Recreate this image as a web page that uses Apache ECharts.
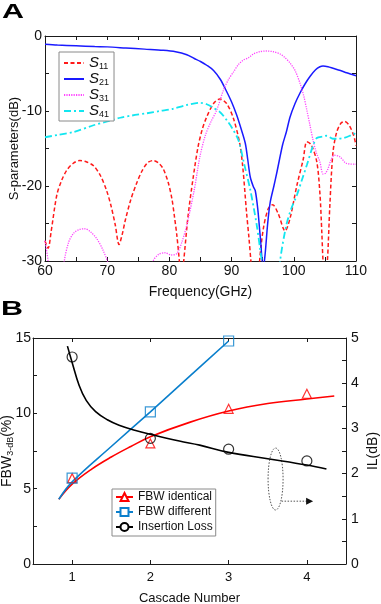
<!DOCTYPE html>
<html>
<head>
<meta charset="utf-8">
<script src="https://cdn.jsdelivr.net/npm/echarts@6/dist/echarts.min.js"></script>
<style>
html, body { margin: 0; padding: 0; background: #fff; }
#main { width: 381px; height: 604px; }
</style>
</head>
<body>
<div id="main"></div>
<script>
// ---- panel A : S-parameters, points are [GHz, dB]
var s11 = [[60,-27.3],[60.5,-28.3],[61,-26],[61.9,-21.2],[62.7,-19.2],[63.5,-17.9],[64.5,-17.0],[65.6,-16.6],[66.7,-16.8],[67.8,-17.3],[68.9,-18.6],[69.9,-20.6],[70.6,-22.6],[71.3,-25.2],[71.9,-27.8],[72.4,-26.5],[72.9,-24.6],[73.8,-21.8],[74.7,-19.7],[75.6,-18.0],[76.5,-16.9],[77.4,-16.6],[78.2,-16.9],[79,-17.7],[79.8,-19.5],[80.4,-21.7],[80.8,-24],[81.2,-26.6],[81.6,-30],[81.9,-33],[82.3,-30],[83,-24],[83.8,-19],[84.6,-14.8],[85.3,-12.4],[86,-10.8],[87.1,-9.0],[88.1,-8.4],[89.2,-9.0],[90.3,-11.0],[91.3,-14.3],[91.8,-17.5],[92.4,-23.5],[92.8,-27],[93.1,-30],[93.4,-33],[94.3,-33],[94.5,-30],[95.1,-25.7],[95.9,-23.0],[96.6,-22.5],[97.5,-23.7],[98.6,-26.0],[99.4,-24.3],[100.5,-19.9],[101.5,-16.5],[102.1,-14.1],[102.8,-14.5],[103.7,-16.8],[104.2,-21],[104.5,-26.1],[104.7,-30],[105.0,-33],[105.4,-30],[105.8,-22.5],[106.3,-15.5],[106.9,-12.8],[107.6,-11.6],[108.2,-11.4],[108.9,-11.9],[109.6,-13.2],[110,-14.6]]
var s21 = [[60,-1.1],[62,-1.2],[65,-1.3],[68,-1.4],[70,-1.45],[73,-1.6],[76,-1.75],[79,-1.9],[81,-2.1],[82.8,-2.5],[84,-3.0],[85,-3.4],[86,-3.9],[87.1,-4.6],[88.2,-5.8],[89.2,-7.4],[90,-8.8],[90.8,-10.5],[91.5,-12.3],[92.2,-14.3],[92.6,-16.5],[93,-18.8],[93.5,-20.1],[93.8,-20.6],[94.2,-23],[94.6,-26.7],[95.1,-31],[95.4,-29.0],[95.8,-25],[96.2,-22.2],[96.8,-20],[97.3,-18.1],[98.2,-14.5],[98.8,-12.8],[99.4,-10.8],[100.2,-9.0],[101,-7.6],[101.8,-6.4],[102.6,-5.4],[103.5,-4.5],[104.2,-4.1],[104.7,-4.0],[105.5,-4.1],[106.3,-4.3],[107.5,-4.6],[108.5,-4.9],[110,-5.3]]
var s31 = [[60,-27.3],[60.5,-30],[60.8,-33],[62.8,-33],[63.1,-30],[63.8,-27.5],[64.6,-26.3],[65.5,-25.8],[66.4,-25.7],[67.3,-26.1],[68.3,-27.0],[69.3,-28.5],[70.2,-30.5],[70.6,-33],[77,-33],[77.4,-30],[78.3,-29.1],[79.3,-28.9],[80.3,-29.2],[81.2,-29.0],[82,-27.5],[82.8,-25.2],[84,-20.5],[84.9,-16.1],[85.8,-13.2],[86.7,-11.4],[87.6,-9.9],[88.7,-7.2],[89.5,-5.8],[90.3,-4.8],[91.1,-3.8],[91.9,-3.2],[92.7,-2.9],[93.5,-2.4],[94.5,-2.1],[95.6,-2.0],[96.7,-2.1],[97.8,-2.4],[98.6,-2.9],[99.4,-3.6],[100.2,-4.6],[101.0,-6.3],[101.6,-8],[102.1,-9.9],[102.6,-11.9],[103.1,-13.9],[103.6,-15.5],[104.2,-16.8],[104.7,-18.4],[105.1,-18.3],[105.5,-17.7],[106,-16.5],[106.5,-15.9],[107.4,-16.1],[108.5,-17.0],[110,-17.1]]
var s41 = [[60,-13.5],[62,-13.2],[64.6,-12.8],[67.8,-11.9],[70,-11.4],[72.1,-10.9],[74,-10.6],[76.4,-10.3],[78.5,-10.0],[80.6,-9.7],[82.8,-9.2],[84.9,-8.9],[86,-9.1],[87.1,-9.6],[88.2,-10.2],[89.2,-11.2],[90.1,-12.3],[91.1,-13.9],[92,-17],[93,-20.5],[94,-25],[94.6,-28.5],[95,-31],[95.3,-34],[97.5,-34],[97.8,-30],[98.8,-25.2],[99.6,-23],[100.5,-21.2],[101.3,-19.2],[102.1,-17.2],[103.1,-14.6],[103.7,-13.6],[104.7,-13.4],[105.3,-13.3],[106.3,-13.7],[107,-13.7],[108,-13.6],[109,-13.3],[109.6,-13.0],[110,-13.2]]
var freqTicks = [60,65,70,75,80,85,90,95,100,105,110]
var freqLabels = [60,70,80,90,100,110]
var dbTicks = [-30,-25,-20,-15,-10,-5,0]
var dbLabels = [-30,-20,-10,0]

// ---- panel B : bandwidth and loss vs cascade number
var cascade = [1, 2, 3, 4]
var fbwIdentical = [5.7, 8.0, 10.3, 11.3]
var fbwDifferent = [5.7, 10.1, 14.8]
var insertionLoss = [4.58, 2.78, 2.54, 2.28]
var fbwIdenticalFit = [[0.83,4.3],[1,5.3],[1.25,6.3],[1.5,7.1],[1.75,7.8],[2,8.45],[2.5,9.4],[3,10.15],[3.5,10.65],[4,10.95],[4.35,11.15]]
var fbwDifferentFit = [[0.83,4.3],[1,5.45],[1.5,7.8],[2,10.1],[2.5,12.45],[3,14.8]]
var lossFit = [[0.94,4.82],[1,4.46],[1.09,3.95],[1.18,3.62],[1.3,3.37],[1.45,3.19],[1.6,3.07],[1.8,2.96],[2,2.87],[2.37,2.72],[2.63,2.63],[3,2.47],[3.5,2.33],[4,2.19],[4.25,2.1]]
var cascadeTicks = [1, 2, 3, 4]
var fbwTicks = [0, 2.5, 5, 7.5, 10, 12.5, 15]
var fbwLabels = [0, 5, 10, 15]
var ilTicks = [0, 0.5, 1, 1.5, 2, 2.5, 3, 3.5, 4, 4.5, 5]
var ilLabels = [0, 1, 2, 3, 4, 5]

var FONT = '"Liberation Sans", Arial, sans-serif'
var INK = '#1a1a1a'

function makeAxis(grid, pos, min, max, ticks, labels, labelSize, margin) {
    return {
        gridIndex: grid, position: pos, type: 'value', min: min, max: max,
        nameMoveOverlap: false,
        axisLine: { show: true, onZero: false, lineStyle: { color: INK, width: 1 } },
        axisTick: { show: true, inside: true, length: 4, customValues: ticks, lineStyle: { color: INK } },
        axisLabel: labels ? { show: true, customValues: labels, color: '#111', fontSize: labelSize || 14, fontFamily: FONT, margin: margin || 3 } : { show: false },
        splitLine: { show: false },
        nameTextStyle: { color: '#111', fontSize: 14, fontFamily: FONT }
    }
}

function sParam(name, data, color, dash, width) {
    return {
        name: name, type: 'line', xAxisIndex: 0, yAxisIndex: 0, data: data,
        symbol: 'none', showSymbol: false, smooth: 0.3, clip: true,
        lineStyle: { color: color, width: width, type: dash }, itemStyle: { color: color }
    }
}

function fitLine(name, data, yIdx, color, symbol) {
    return {
        name: name, type: 'line', xAxisIndex: 2, yAxisIndex: yIdx, data: data,
        symbol: symbol, showSymbol: false, smooth: 0.4,
        lineStyle: { color: color, width: 1.6 }, itemStyle: { color: color }
    }
}

function marks(name, ys, yIdx, color, symbol, size) {
    return {
        name: name, type: 'scatter', xAxisIndex: 2, yAxisIndex: yIdx, z: 5,
        data: ys.map(function (v, i) { return [cascade[i], v] }),
        symbol: symbol, symbolSize: size,
        itemStyle: { color: 'rgba(0,0,0,0)', borderColor: color, borderWidth: 1.2 }
    }
}

var xA = makeAxis(0, 'bottom', 60, 110, freqTicks, freqLabels, 14, 3)
xA.name = 'Frequency(GHz)'; xA.nameLocation = 'middle'; xA.nameGap = 24
var yA = makeAxis(0, 'left', -30, 0, dbTicks, dbLabels, 14, 3)
yA.name = 'S-parameters(dB)'; yA.nameLocation = 'middle'; yA.nameGap = 24
yA.nameTextStyle.fontSize = 13

var xB = makeAxis(1, 'bottom', 0.5, 4.5, cascadeTicks, cascadeTicks, 13, 7)
xB.name = 'Cascade Number'; xB.nameLocation = 'middle'; xB.nameGap = 28
xB.nameTextStyle.fontSize = 13
var yB = makeAxis(1, 'left', 0, 15, fbwTicks, fbwLabels, 14, 2)
yB.name = 'FBW{sub|3-dB}(%)'; yB.nameLocation = 'middle'; yB.nameGap = 18
yB.nameTextStyle.rich = { sub: { fontSize: 9, fontFamily: FONT, color: '#111', lineHeight: 10, verticalAlign: 'bottom' } }
yB.nameTextStyle.lineHeight = 16
var yB2 = makeAxis(1, 'right', 0, 5, ilTicks, ilLabels, 14, 5)
yB2.name = 'IL(dB)'; yB2.nameLocation = 'middle'; yB2.nameGap = 20; yB2.nameRotate = 90

var chart = echarts.init(document.getElementById('main'))
chart.setOption({
    animation: false,
    backgroundColor: '#fff',
    textStyle: { fontFamily: FONT },
    grid: [
        { left: 45, top: 36, width: 311, height: 225, outerBoundsMode: 'none' },
        { left: 33, top: 338, width: 313, height: 226, outerBoundsMode: 'none' }
    ],
    xAxis: [xA, makeAxis(0, 'top', 60, 110, freqTicks), xB, makeAxis(1, 'top', 0.5, 4.5, cascadeTicks)],
    yAxis: [yA, makeAxis(0, 'right', -30, 0, dbTicks), yB, yB2],
    legend: [{
        data: ['S11', 'S21', 'S31', 'S41'],
        orient: 'vertical', left: 59, top: 52, padding: [3, 5, 2, 4],
        itemWidth: 20, itemHeight: 10, itemGap: 0, itemTextGap: 5,
        itemStyle: { opacity: 0 },
        borderColor: '#8a8a8a', borderWidth: 1, backgroundColor: '#fff',
        formatter: function (n) { return '{s|S}{sub|' + n.slice(1) + '}' },
        textStyle: {
            fontFamily: FONT, color: '#111', fontSize: 14, lineHeight: 16,
            rich: {
                s: { fontSize: 15, fontStyle: 'italic', fontFamily: FONT, color: '#111', lineHeight: 16 },
                sub: { fontSize: 9, fontFamily: FONT, color: '#111', lineHeight: 10, verticalAlign: 'bottom' }
            }
        }
    }, {
        data: ['FBW identical', 'FBW different', 'Insertion Loss'],
        orient: 'vertical', left: 112, top: 489, padding: [2, 3, 3, 3],
        itemWidth: 17, itemHeight: 10, itemGap: 3, itemTextGap: 5,
        borderColor: '#8a8a8a', borderWidth: 1, backgroundColor: '#fff',
        textStyle: { fontFamily: FONT, color: '#111', fontSize: 12, lineHeight: 12 }
    }],
    series: [
        sParam('S11', s11, '#ff1a1a', [4, 2.5], 1.5),
        sParam('S21', s21, '#1a1aff', 'solid', 1.5),
        sParam('S31', s31, '#ff44ff', [1.2, 1.2], 1.3),
        sParam('S41', s41, '#12e6f0', [7, 3, 2, 3], 1.8),
        fitLine('FBW identical', fbwIdenticalFit, 2, '#ff0000', 'emptyTriangle'),
        marks('FBW identical', fbwIdentical, 2, '#ff0000', 'triangle', 9),
        fitLine('FBW different', fbwDifferentFit, 2, '#0a7fcc', 'emptyRect'),
        marks('FBW different', fbwDifferent, 2, '#0a7fcc', 'rect', 10),
        fitLine('Insertion Loss', lossFit, 3, '#000000', 'emptyCircle'),
        marks('Insertion Loss', insertionLoss, 3, '#000000', 'circle', 10)
    ]
})

// panel letters and the dotted "belongs to right axis" annotation
var c = chart.convertToPixel({ xAxisIndex: 2, yAxisIndex: 3 }, [3.6, 1.88])
var a0 = chart.convertToPixel({ xAxisIndex: 2, yAxisIndex: 3 }, [3.6, 1.39])
var a1 = chart.convertToPixel({ xAxisIndex: 2, yAxisIndex: 3 }, [4.08, 1.39])
var dotted = { fill: 'none', stroke: '#555', lineWidth: 1, lineDash: [1.5, 1.5] }
chart.setOption({
    graphic: [
        { type: 'text', x: 2, y: 2, scaleX: 1.45, style: { text: 'A', fontSize: 21, fontWeight: 'bold', fontFamily: FONT, fill: '#000' } },
        { type: 'text', x: 1, y: 299, scaleX: 1.45, style: { text: 'B', fontSize: 21, fontWeight: 'bold', fontFamily: FONT, fill: '#000' } },
        { type: 'ellipse', shape: { cx: c[0], cy: c[1], rx: 7.5, ry: 31 }, style: dotted },
        { type: 'line', shape: { x1: a0[0] + 6, y1: a0[1], x2: a1[0] - 6, y2: a1[1] }, style: dotted },
        { type: 'polygon', shape: { points: [[a1[0], a1[1]], [a1[0] - 7, a1[1] - 3.5], [a1[0] - 7, a1[1] + 3.5]] }, style: { fill: '#111' } }
    ]
})
</script>
</body>
</html>
